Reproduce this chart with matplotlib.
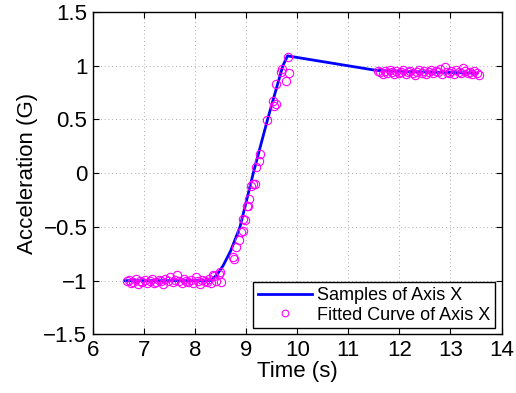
import matplotlib
matplotlib.use('Agg')
import matplotlib.pyplot as plt
from matplotlib.ticker import FuncFormatter

plt.rcParams['font.family'] = ['Liberation Sans', 'DejaVu Sans']

# blue "samples" line
line_t = [6.63, 8.30, 8.42, 8.55, 8.70, 8.88, 9.14, 9.42, 9.72, 9.81, 11.55, 12.5, 13.52]
line_y = [-1.00, -1.00, -0.95, -0.86, -0.72, -0.50, 0.00, 0.50, 1.00, 1.09, 0.955, 0.94, 0.93]

# magenta circles, flat part before the rise
fit_t_low = [6.66, 6.70, 6.75, 6.79, 6.84, 6.88, 6.93, 6.97, 7.02, 7.06, 7.11, 7.15,
             7.20, 7.24, 7.29, 7.33, 7.38, 7.42, 7.47, 7.51, 7.56, 7.60, 7.65, 7.69,
             7.74, 7.78, 7.83, 7.87, 7.92, 7.96, 8.01, 8.05, 8.10, 8.14, 8.19, 8.23,
             8.28, 8.32, 8.37, 8.41, 8.46, 8.50]
fit_y_low = [-1.00, -0.99, -1.02, -1.01, -0.98, -1.03, -1.00, -1.01, -0.99, -1.02, -1.00, -0.98,
             -1.02, -1.01, -0.99, -1.00, -1.03, -0.98, -1.00, -0.97, -1.01, -0.99, -0.95, -1.00,
             -1.02, -0.98, -1.00, -1.01, -0.99, -1.02, -0.97, -1.00, -1.03, -0.99, -1.00, -1.01,
             -0.98, -1.02, -0.96, -1.00, -0.94, -1.01]

# magenta circles along the rise
fit_t_rise = [8.36, 8.49, 8.75, 8.77, 8.80, 8.86, 8.89, 8.93, 8.94, 8.97, 9.01, 9.04,
              9.06, 9.10, 9.14, 9.17, 9.19, 9.25, 9.28, 9.40, 9.53, 9.54, 9.58, 9.59,
              9.69, 9.71, 9.78, 9.81, 9.84]
fit_y_rise = [-0.95, -0.92, -0.78, -0.80, -0.69, -0.62, -0.55, -0.54, -0.43, -0.44, -0.31, -0.31,
              -0.245, -0.12, -0.10, -0.10, 0.06, 0.11, 0.18, 0.49, 0.67, 0.62, 0.64, 0.83,
              0.94, 0.97, 0.86, 1.08, 0.93]

# magenta circles, flat part after the rise
fit_t_high = [11.58, 11.63, 11.67, 11.72, 11.76, 11.81, 11.85, 11.90, 11.94, 11.99, 12.03, 12.08,
              12.12, 12.17, 12.21, 12.26, 12.30, 12.35, 12.39, 12.44, 12.48, 12.53, 12.57, 12.62,
              12.66, 12.71, 12.75, 12.80, 12.84, 12.89, 12.93, 12.98, 13.02, 13.07, 13.11, 13.16,
              13.20, 13.25, 13.29, 13.34, 13.38, 13.43, 13.47, 13.52, 13.55]
fit_y_high = [0.95, 0.94, 0.92, 0.95, 0.93, 0.96, 0.94, 0.92, 0.95, 0.93, 0.94, 0.96,
              0.92, 0.94, 0.95, 0.93, 0.91, 0.94, 0.96, 0.93, 0.95, 0.92, 0.94, 0.96,
              0.93, 0.95, 0.94, 0.97, 0.92, 0.99, 0.94, 0.93, 0.95, 0.92, 0.96, 0.94,
              0.93, 0.98, 0.95, 0.93, 0.94, 0.92, 0.95, 0.93, 0.91]

x_ticks = [6, 7, 8, 9, 10, 11, 12, 13, 14]
y_ticks = [-1.5, -1, -0.5, 0, 0.5, 1, 1.5]

fit_t = fit_t_low + fit_t_rise + fit_t_high
fit_y = fit_y_low + fit_y_rise + fit_y_high

fig = plt.figure(figsize=(5.16, 3.93), dpi=100)
ax = fig.add_axes((0.180, 0.149, 0.792, 0.821))

ax.plot(line_t, line_y, color='#0000ff', lw=2.0, label='Samples of Axis X', zorder=3)
ax.plot(fit_t, fit_y, linestyle='none', marker='o', ms=6, mfc='none', mec='#ff00ff',
        mew=0.8, label='Fitted Curve of Axis X', zorder=4)

ax.set_xlim(6, 14)
ax.set_ylim(-1.5, 1.5)
ax.set_xticks(x_ticks)
ax.set_yticks(y_ticks)
ax.yaxis.set_major_formatter(FuncFormatter(lambda v, p: ('%g' % v).replace('-', '\u2212')))
ax.grid(True, linestyle=(0, (1, 3.5)), color='#909090', lw=0.6)
ax.tick_params(direction='in', top=True, right=True, labelsize=16, length=4, width=0.8, pad=4)
for s in ax.spines.values():
    s.set_linewidth(1.0)

ax.set_xlabel('Time (s)', fontsize=16, labelpad=0)
ax.set_ylabel('Acceleration (G)', fontsize=16, labelpad=4)

leg = ax.legend(loc='lower right', fontsize=13, fancybox=False, framealpha=1,
                edgecolor='black', borderaxespad=0.35, handlelength=3.0,
                handletextpad=0.3, borderpad=0.25, labelspacing=0.15, markerscale=0.8)
leg.get_frame().set_linewidth(1.0)

fig.savefig('out.png', dpi=100)
